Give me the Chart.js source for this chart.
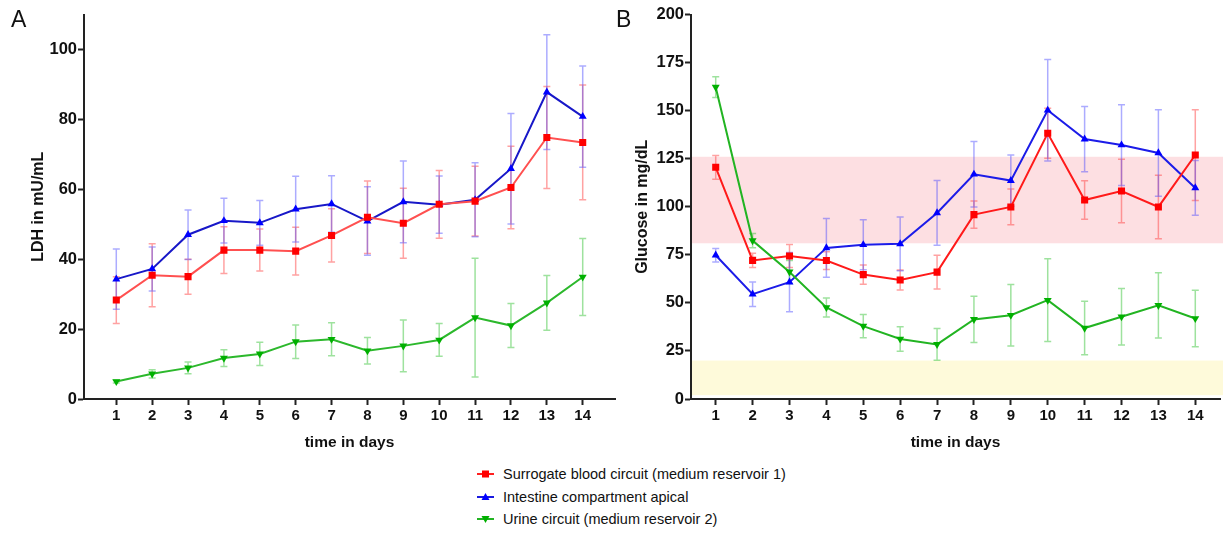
<!DOCTYPE html>
<html>
<head>
<meta charset="utf-8">
<script src="https://cdn.jsdelivr.net/npm/chart.js@4.4.1/dist/chart.umd.min.js"></script>
<style>
  body { margin: 0; background: #fff; font-family: 'Liberation Sans', Arial, sans-serif; }
  #wrap { position: relative; width: 1225px; height: 533px; overflow: hidden; }
  canvas { position: absolute; }
  .panel { position: absolute; font-size: 23px; line-height: 23px; color: #111; }
  .leg { position: absolute; left: 477px; font-size: 14.5px; line-height: 18px; color: #111; white-space: nowrap; }
  .leg svg { vertical-align: middle; margin-right: 9px; position: relative; top: -1px; }
</style>
</head>
<body>
<div id="wrap">
  <canvas id="chartA" width="620" height="460" style="left:0;top:0;width:620px;height:460px"></canvas>
  <canvas id="chartB" width="625" height="460" style="left:600px;top:0;width:625px;height:460px"></canvas>
  <div class="panel" style="left:11px;top:8px">A</div>
  <div class="panel" style="left:616px;top:8px">B</div>
  <div class="leg" style="top:465px"><svg width="17" height="10"><line x1="0" y1="5" x2="17" y2="5" stroke="#ff2020" stroke-width="2"/><rect x="5" y="1.5" width="7" height="7" fill="#ff0000"/></svg>Surrogate blood circuit (medium reservoir 1)</div>
  <div class="leg" style="top:488px"><svg width="17" height="10"><line x1="0" y1="5" x2="17" y2="5" stroke="#1a1ae0" stroke-width="2"/><polygon points="8.5,1 12.5,8 4.5,8" fill="#0000ff"/></svg>Intestine compartment apical</div>
  <div class="leg" style="top:510px"><svg width="17" height="10"><line x1="0" y1="5" x2="17" y2="5" stroke="#22b422" stroke-width="2"/><polygon points="4.5,2 12.5,2 8.5,9" fill="#00b000"/></svg>Urine circuit (medium reservoir 2)</div>
</div>
<script>
// days
const days = [1, 2, 3, 4, 5, 6, 7, 8, 9, 10, 11, 12, 13, 14];

// panel A - LDH (mU/mL), mean and SD
const ldhBlood = [28.3, 35.4, 35.0, 42.6, 42.6, 42.3, 46.8, 52.0, 50.3, 55.7, 56.6, 60.5, 74.8, 73.4];
const ldhBloodSd = [6.7, 9.0, 5.0, 6.7, 6.0, 6.8, 7.6, 10.4, 10.0, 9.7, 10.0, 11.8, 14.6, 16.4];
const ldhApical = [34.3, 37.2, 47.0, 51.0, 50.4, 54.3, 55.8, 50.9, 56.4, 55.6, 57.0, 65.9, 87.8, 80.8];
const ldhApicalSd = [8.6, 6.3, 7.1, 6.4, 6.4, 9.4, 8.1, 9.8, 11.7, 8.2, 10.6, 15.8, 16.4, 14.5];
const ldhUrine = [5.0, 7.2, 8.9, 11.7, 12.9, 16.4, 17.1, 13.8, 15.2, 16.9, 23.3, 21.0, 27.5, 34.9];
const ldhUrineSd = [0.4, 1.2, 1.7, 2.4, 3.3, 4.8, 4.7, 3.8, 7.4, 4.7, 17.0, 6.3, 7.8, 11.0];

// panel B - glucose (mg/dL), mean and SD
const gluBlood = [120.5, 72.1, 74.4, 72.0, 64.7, 61.9, 66.0, 95.9, 99.9, 138.2, 103.5, 108.2, 99.9, 126.9];
const gluBloodSd = [6.2, 3.7, 6.0, 4.6, 5.0, 5.2, 8.8, 7.1, 9.3, 13.0, 10.0, 16.5, 16.5, 23.6];
const gluApical = [74.8, 54.5, 60.8, 78.6, 80.2, 80.7, 96.8, 116.9, 113.6, 150.2, 135.2, 132.1, 128.0, 109.8];
const gluApicalSd = [3.5, 6.4, 15.4, 15.3, 13.0, 14.0, 16.8, 17.0, 13.3, 26.4, 17.0, 21.0, 22.5, 14.2];
const gluUrine = [162.2, 82.4, 66.1, 47.6, 37.9, 31.2, 28.4, 41.4, 43.6, 51.4, 36.9, 42.8, 48.7, 41.9];
const gluUrineSd = [5.4, 3.7, 6.0, 5.0, 6.1, 6.4, 8.3, 12.0, 16.0, 21.5, 13.9, 14.7, 17.0, 14.7];

// reference ranges in panel B
const normalBand = [81, 126];
const lowBand = [2, 20];

const ldhTicks = [0, 20, 40, 60, 80, 100];
const gluTicks = [0, 25, 50, 75, 100, 125, 150, 175, 200];

const FONT = "'Liberation Sans', Arial, sans-serif";

const pts = (vals) => days.map((d, i) => ({ x: d, y: vals[i] }));

// error bars
const errorBars = {
    id: 'errorBars',
    beforeDatasetsDraw(chart) {
        const ctx = chart.ctx;
        const xs = chart.scales.x, ys = chart.scales.y;
        chart.data.datasets.forEach((ds) => {
            if (!ds.sd) return;
            ctx.save();
            ctx.strokeStyle = ds.errColor;
            ctx.lineWidth = 1.5;
            ds.data.forEach((p, i) => {
                const x = xs.getPixelForValue(p.x);
                const y1 = ys.getPixelForValue(p.y + ds.sd[i]);
                const y2 = ys.getPixelForValue(p.y - ds.sd[i]);
                ctx.beginPath();
                ctx.moveTo(x, y1); ctx.lineTo(x, y2);
                ctx.moveTo(x - 3.5, y1); ctx.lineTo(x + 3.5, y1);
                ctx.moveTo(x - 3.5, y2); ctx.lineTo(x + 3.5, y2);
                ctx.stroke();
            });
            ctx.restore();
        });
    }
};

// shaded ranges
const bands = {
    id: 'bands',
    beforeDatasetsDraw(chart, args, opts) {
        const ctx = chart.ctx;
        const ys = chart.scales.y, area = chart.chartArea;
        (opts.list || []).forEach((b) => {
            const top = ys.getPixelForValue(b.range[1]);
            const bot = ys.getPixelForValue(b.range[0]);
            ctx.fillStyle = b.color;
            ctx.fillRect(area.left + 1, top, area.right - area.left + 2, bot - top);
        });
    }
};

function makeDataset(label, vals, sd, line, marker, errColor, style, rot) {
    return {
        label: label,
        data: pts(vals),
        sd: sd,
        errColor: errColor,
        borderColor: line,
        borderWidth: 2,
        backgroundColor: marker,
        pointBackgroundColor: marker,
        pointBorderColor: marker,
        pointBorderWidth: 0,
        pointStyle: style,
        pointRotation: rot,
        pointRadius: style === 'rect' ? 5 : 4.6,
        tension: 0
    };
}

function makeOptions(yMax, yTicks, xMin, xMax, yTitle, yAxisWidth, yTitlePad, rightPad, bandList) {
    return {
        responsive: false,
        animation: false,
        layout: { padding: { top: 14.5, right: rightPad, left: 0, bottom: 0 } },
        plugins: {
            legend: { display: false },
            tooltip: { enabled: false },
            bands: { list: bandList }
        },
        scales: {
            x: {
                type: 'linear',
                min: xMin, max: xMax,
                afterBuildTicks: (s) => { s.ticks = days.map((d) => ({ value: d })); },
                afterFit: (s) => { s.height = 61; },
                ticks: { color: '#111', font: { family: FONT, size: 15, weight: 'bold' }, padding: 2, maxRotation: 0 },
                grid: { drawOnChartArea: false, drawTicks: true, tickLength: 6, tickColor: '#222', tickWidth: 2 },
                border: { color: '#222', width: 2 },
                title: { display: true, text: 'time in days', color: '#111', font: { family: FONT, size: 15.5, weight: 'bold' }, padding: { top: 0, bottom: 8 } }
            },
            y: {
                min: 0, max: yMax,
                afterBuildTicks: (s) => { s.ticks = yTicks.map((v) => ({ value: v })); },
                afterFit: (s) => { s.width = yAxisWidth; },
                ticks: { color: '#111', font: { family: FONT, size: 16.5, weight: 'bold' }, padding: 1 },
                grid: { drawOnChartArea: false, drawTicks: true, tickLength: 6, tickColor: '#222', tickWidth: 2 },
                border: { color: '#222', width: 2 },
                title: { display: true, text: yTitle, color: '#111', font: { family: FONT, size: 16, weight: 'bold' }, padding: { top: yTitlePad, bottom: 0 } }
            }
        }
    };
}

new Chart(document.getElementById('chartA').getContext('2d'), {
    type: 'line',
    data: {
        datasets: [
            makeDataset('Urine circuit (medium reservoir 2)', ldhUrine, ldhUrineSd, '#2cb82c', '#00b000', 'rgba(40,190,40,0.45)', 'triangle', 180),
            makeDataset('Surrogate blood circuit (medium reservoir 1)', ldhBlood, ldhBloodSd, '#ff5050', '#ff0000', 'rgba(255,70,70,0.5)', 'rect', 0),
            makeDataset('Intestine compartment apical', ldhApical, ldhApicalSd, '#1818c8', '#0000ff', 'rgba(70,70,255,0.45)', 'triangle', 0)
        ]
    },
    options: makeOptions(110, ldhTicks, 0.1, 14.9, 'LDH in mU/mL', 84, 29, 5, []),
    plugins: [bands, errorBars]
});

new Chart(document.getElementById('chartB').getContext('2d'), {
    type: 'line',
    data: {
        datasets: [
            makeDataset('Urine circuit (medium reservoir 2)', gluUrine, gluUrineSd, '#22b422', '#00b000', 'rgba(40,190,40,0.45)', 'triangle', 180),
            makeDataset('Surrogate blood circuit (medium reservoir 1)', gluBlood, gluBloodSd, '#ff1a1a', '#ff0000', 'rgba(255,70,70,0.5)', 'rect', 0),
            makeDataset('Intestine compartment apical', gluApical, gluApicalSd, '#1c1ce8', '#0000ff', 'rgba(70,70,255,0.45)', 'triangle', 0)
        ]
    },
    options: makeOptions(200, gluTicks, 0.33, 14.67, 'Glucose in mg/dL', 91, 33, 2, [
        { range: normalBand, color: 'rgb(253,223,226)' },
        { range: lowBand, color: 'rgb(254,250,218)' }
    ]),
    plugins: [bands, errorBars]
});
</script>
</body>
</html>
